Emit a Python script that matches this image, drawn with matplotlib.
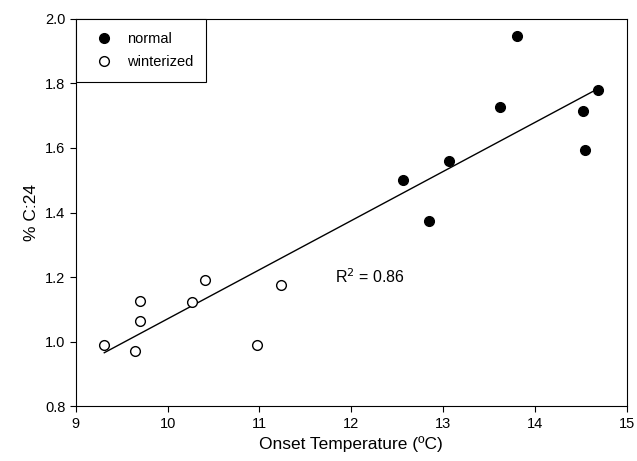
import matplotlib
matplotlib.use('Agg')
import matplotlib.pyplot as plt
import numpy as np

plt.rcParams['font.family'] = ['Liberation Sans', 'DejaVu Sans']

# normal samples
normal_x = [12.56, 12.85, 13.06, 13.62, 13.80, 14.52, 14.55, 14.69]
normal_y = [1.501, 1.375, 1.561, 1.727, 1.946, 1.715, 1.594, 1.780]

# winterized samples
wint_x = [9.31, 9.65, 9.70, 9.70, 10.26, 10.41, 10.97, 11.23]
wint_y = [0.990, 0.971, 1.125, 1.065, 1.122, 1.190, 0.991, 1.175]

# regression line over all points
all_x = np.array(normal_x + wint_x)
all_y = np.array(normal_y + wint_y)
slope, icpt = np.polyfit(all_x, all_y, 1)
fit_x = np.array([all_x.min(), all_x.max()])
fit_y = slope * fit_x + icpt

fig = plt.figure(figsize=(6.37, 4.61), dpi=100)
ax = fig.add_axes([0.119, 0.119, 0.865, 0.840])

ax.plot(fit_x, fit_y, 'k-', lw=1)
ax.plot(normal_x, normal_y, 'o', color='black', ms=7, label='normal')
ax.plot(wint_x, wint_y, 'o', mfc='white', mec='black', mew=1, ms=7, label='winterized')

ax.set_xlim(9, 15)
ax.set_ylim(0.8, 2.0)
ax.set_xticks(range(9, 16))
ax.set_yticks(np.arange(0.8, 2.01, 0.2))
ax.set_yticklabels(['0.8', '1.0', '1.2', '1.4', '1.6', '1.8', '2.0'])
ax.tick_params(labelsize=10.5, direction='out', top=False, right=False, length=4)
ax.set_xlabel('Onset Temperature (ºC)', fontsize=12.5)
ax.set_ylabel('% C:24', fontsize=12.5)

ax.text(11.82, 1.2, 'R$^2$ = 0.86', fontsize=11.5, va='center')

leg = ax.legend(loc='upper left', fontsize=10.5, borderaxespad=0, fancybox=False,
                edgecolor='black', framealpha=1, handletextpad=0.6, borderpad=0.9,
                labelspacing=0.6)
leg.get_frame().set_linewidth(0.8)

fig.savefig('out.png', dpi=100)
